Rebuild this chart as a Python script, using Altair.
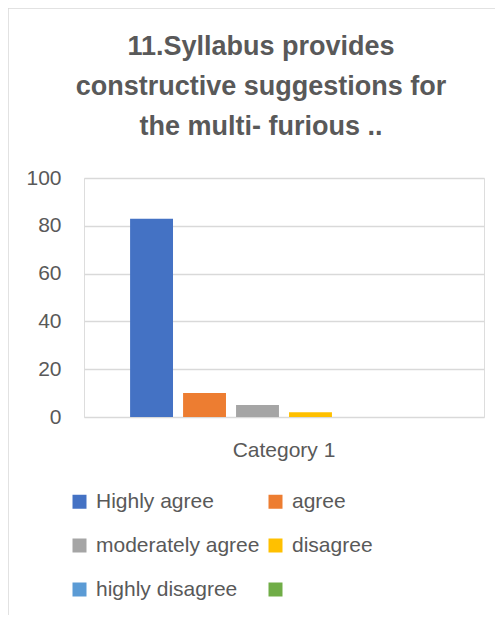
import altair as alt
import pandas as pd

categories = ["Category 1"] * 6
series = ["Highly agree", "agree", "moderately agree", "disagree", "highly disagree", "Series6"]
values = [83, 10, 5, 2, 0, 0]
colors = ["#4472C4", "#ED7D31", "#A5A5A5", "#FFC000", "#5B9BD5", "#70AD47"]
title_lines = ["11.Syllabus provides", "constructive suggestions for", "the multi- furious .."]

df = pd.DataFrame({"category": categories, "series": series, "value": values})

TXT = "#595959"
FONT = "Liberation Sans"

bars = alt.Chart(df).mark_bar().encode(
    x=alt.X("category:N", title=None,
            scale=alt.Scale(paddingInner=0, paddingOuter=0),
            axis=alt.Axis(labelAngle=0, domain=False, ticks=False, labelPadding=22,
                          labelFontSize=21, labelColor=TXT, labelFont=FONT)),
    xOffset=alt.XOffset("series:N", sort=series,
                        scale=alt.Scale(domain=series, paddingInner=0.19, paddingOuter=0.87)),
    y=alt.Y("value:Q", title=None,
            scale=alt.Scale(domain=[0, 100], nice=False),
            axis=alt.Axis(values=[0, 20, 40, 60, 80, 100], domain=False, ticks=False,
                          grid=True, gridColor="#D9D9D9", gridWidth=1.3,
                          labelPadding=23, labelFontSize=21, labelColor=TXT, labelFont=FONT)),
    color=alt.Color("series:N", sort=series,
                    scale=alt.Scale(domain=series, range=colors),
                    legend=alt.Legend(title=None, orient="none", legendX=-15, legendY=313,
                                      direction="horizontal",
                                      columns=2, columnPadding=5, rowPadding=22,
                                      symbolType="square", symbolSize=196,
                                      symbolStrokeWidth=0, labelOffset=6, labelLimit=400,
                                      labelFontSize=21, labelColor=TXT, labelFont=FONT,
                                      padding=0,
                                      labelExpr="datum.label == 'Series6' ? '' : datum.label")),
)

frame = alt.Chart(pd.DataFrame({"a": [0]})).mark_rect(
    fill=None, stroke="#D9D9D9", strokeWidth=1.5
).encode(
    x=alt.value(-76), x2=alt.value(700), y=alt.value(-170), y2=alt.value(900)
)

title = alt.Chart(pd.DataFrame({"t": ["\n".join(title_lines)]})).mark_text(
    align="center", baseline="alphabetic", lineBreak="\n", lineHeight=40,
    fontSize=27, fontWeight="bold", color=TXT, font=FONT
).encode(
    text="t:N", x=alt.value(177), y=alt.value(-123)
)

chart = alt.layer(frame, bars, title).properties(
    width=400, height=239,
    autosize=alt.AutoSizeParams(type="none"),
    padding={"left": 76, "top": 170, "right": 11, "bottom": 198},
).configure_view(stroke=None).configure(background="white")

chart.save("out.html", embed_options={"renderer": "svg", "actions": False})
